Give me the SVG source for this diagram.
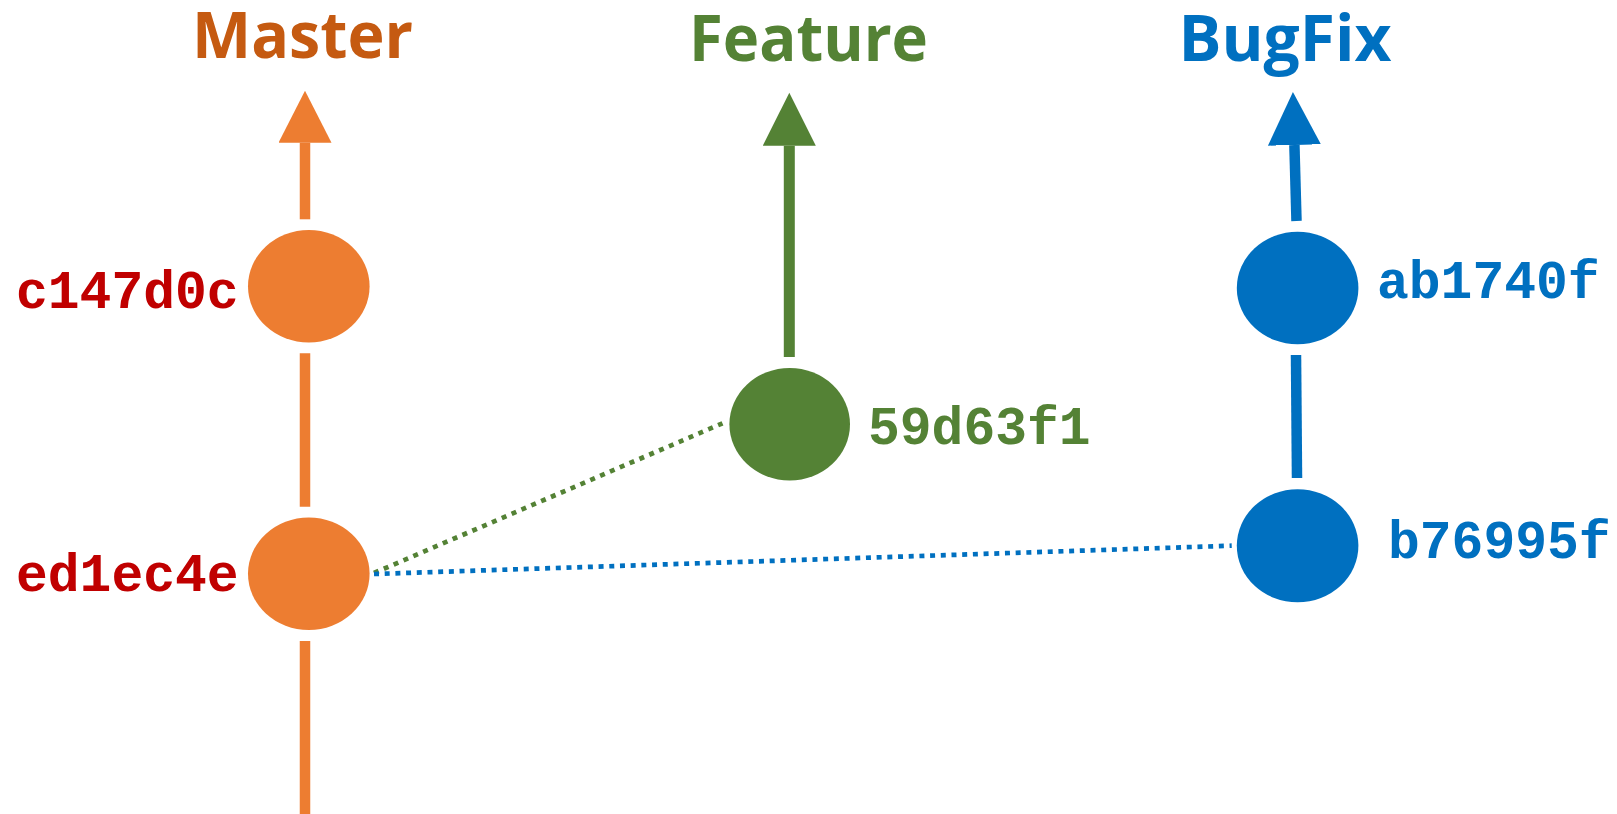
<svg xmlns="http://www.w3.org/2000/svg" width="1617" height="814" viewBox="0 0 1617 814">
  <defs>
    <marker id="arrO" markerUnits="userSpaceOnUse" markerWidth="54" markerHeight="54" refX="0" refY="26.5" orient="auto">
      <path d="M0,0 L52,26.5 L0,53 Z" fill="#ED7D31"/>
    </marker>
    <marker id="arrG" markerUnits="userSpaceOnUse" markerWidth="54" markerHeight="54" refX="0" refY="26.5" orient="auto">
      <path d="M0,0 L53,26.5 L0,53 Z" fill="#548235"/>
    </marker>
    <marker id="arrB" markerUnits="userSpaceOnUse" markerWidth="54" markerHeight="54" refX="0" refY="26.5" orient="auto">
      <path d="M0,0 L53,26.5 L0,53 Z" fill="#0070C0"/>
    </marker>
  </defs>
  <style>
    .title { font-family: "Open Sans", "Liberation Sans", sans-serif; font-weight: 700; font-size: 64px; }
    .hash { font-family: "Liberation Mono", "DejaVu Sans Mono", monospace; font-weight: 700; font-size: 53px; }
    .solidO { stroke: #ED7D31; stroke-width: 10.5; fill: none; }
    .solidG { stroke: #548235; stroke-width: 11; fill: none; }
    .solidB { stroke: #0070C0; stroke-width: 10.5; fill: none; }
    .dotG { stroke: #548235; stroke-width: 4.7; stroke-dasharray: 5 5.7; fill: none; }
    .dotB { stroke: #0070C0; stroke-width: 4.7; stroke-dasharray: 5 5.7; fill: none; }
  </style>
  <rect width="1617" height="814" fill="#FFFFFF"/>

  <g id="connectors">
    <line class="solidO" x1="305" y1="219.3" x2="305" y2="142.7" marker-end="url(#arrO)"/>
    <line class="solidO" x1="305" y1="353.3" x2="305" y2="506.7"/>
    <line class="solidO" x1="305" y1="641" x2="305" y2="814"/>
    <line class="solidG" x1="789.3" y1="357" x2="789.3" y2="145.7" marker-end="url(#arrG)"/>
    <line class="solidB" x1="1296.5" y1="221" x2="1294.4" y2="145" marker-end="url(#arrB)"/>
    <line class="solidB" x1="1296" y1="355" x2="1297" y2="478"/>
    <line class="dotG" x1="374" y1="573" x2="722.5" y2="423.3"/>
    <line class="dotB" x1="374" y1="574" x2="1231.7" y2="545.7"/>
  </g>

  <g id="branch-master">
    <text class="title" x="302.5" y="57.7" text-anchor="middle" fill="#C55A11" textLength="221" lengthAdjust="spacingAndGlyphs">Master</text>
  </g>
  <g id="branch-feature">
    <text class="title" x="808.5" y="61" text-anchor="middle" fill="#548235" textLength="239" lengthAdjust="spacingAndGlyphs">Feature</text>
  </g>
  <g id="branch-bugfix">
    <text class="title" x="1285" y="61" text-anchor="middle" fill="#0070C0" textLength="213" lengthAdjust="spacingAndGlyphs">BugFix</text>
  </g>

  <g id="commit-c147d0c">
    <ellipse cx="308.8" cy="286.3" rx="60.8" ry="56.3" fill="#ED7D31"/>
    <text class="hash" x="16" y="308.3" fill="#C00000">c147d0c</text>
  </g>
  <g id="commit-ed1ec4e">
    <ellipse cx="308.8" cy="573.7" rx="60.8" ry="56.3" fill="#ED7D31"/>
    <text class="hash" x="16" y="591" fill="#C00000">ed1ec4e</text>
  </g>
  <g id="commit-59d63f1">
    <ellipse cx="789.7" cy="424.3" rx="60.3" ry="56.3" fill="#548235"/>
    <text class="hash" x="868" y="444.3" fill="#548235">59d63f1</text>
  </g>
  <g id="commit-ab1740f">
    <ellipse cx="1297.6" cy="288" rx="60.8" ry="56.3" fill="#0070C0"/>
    <text class="hash" x="1377" y="297.7" fill="#0070C0">ab1740f</text>
  </g>
  <g id="commit-b76995f">
    <ellipse cx="1297.6" cy="545.8" rx="60.8" ry="56.5" fill="#0070C0"/>
    <text class="hash" x="1388" y="557.7" fill="#0070C0">b76995f</text>
  </g>
</svg>
